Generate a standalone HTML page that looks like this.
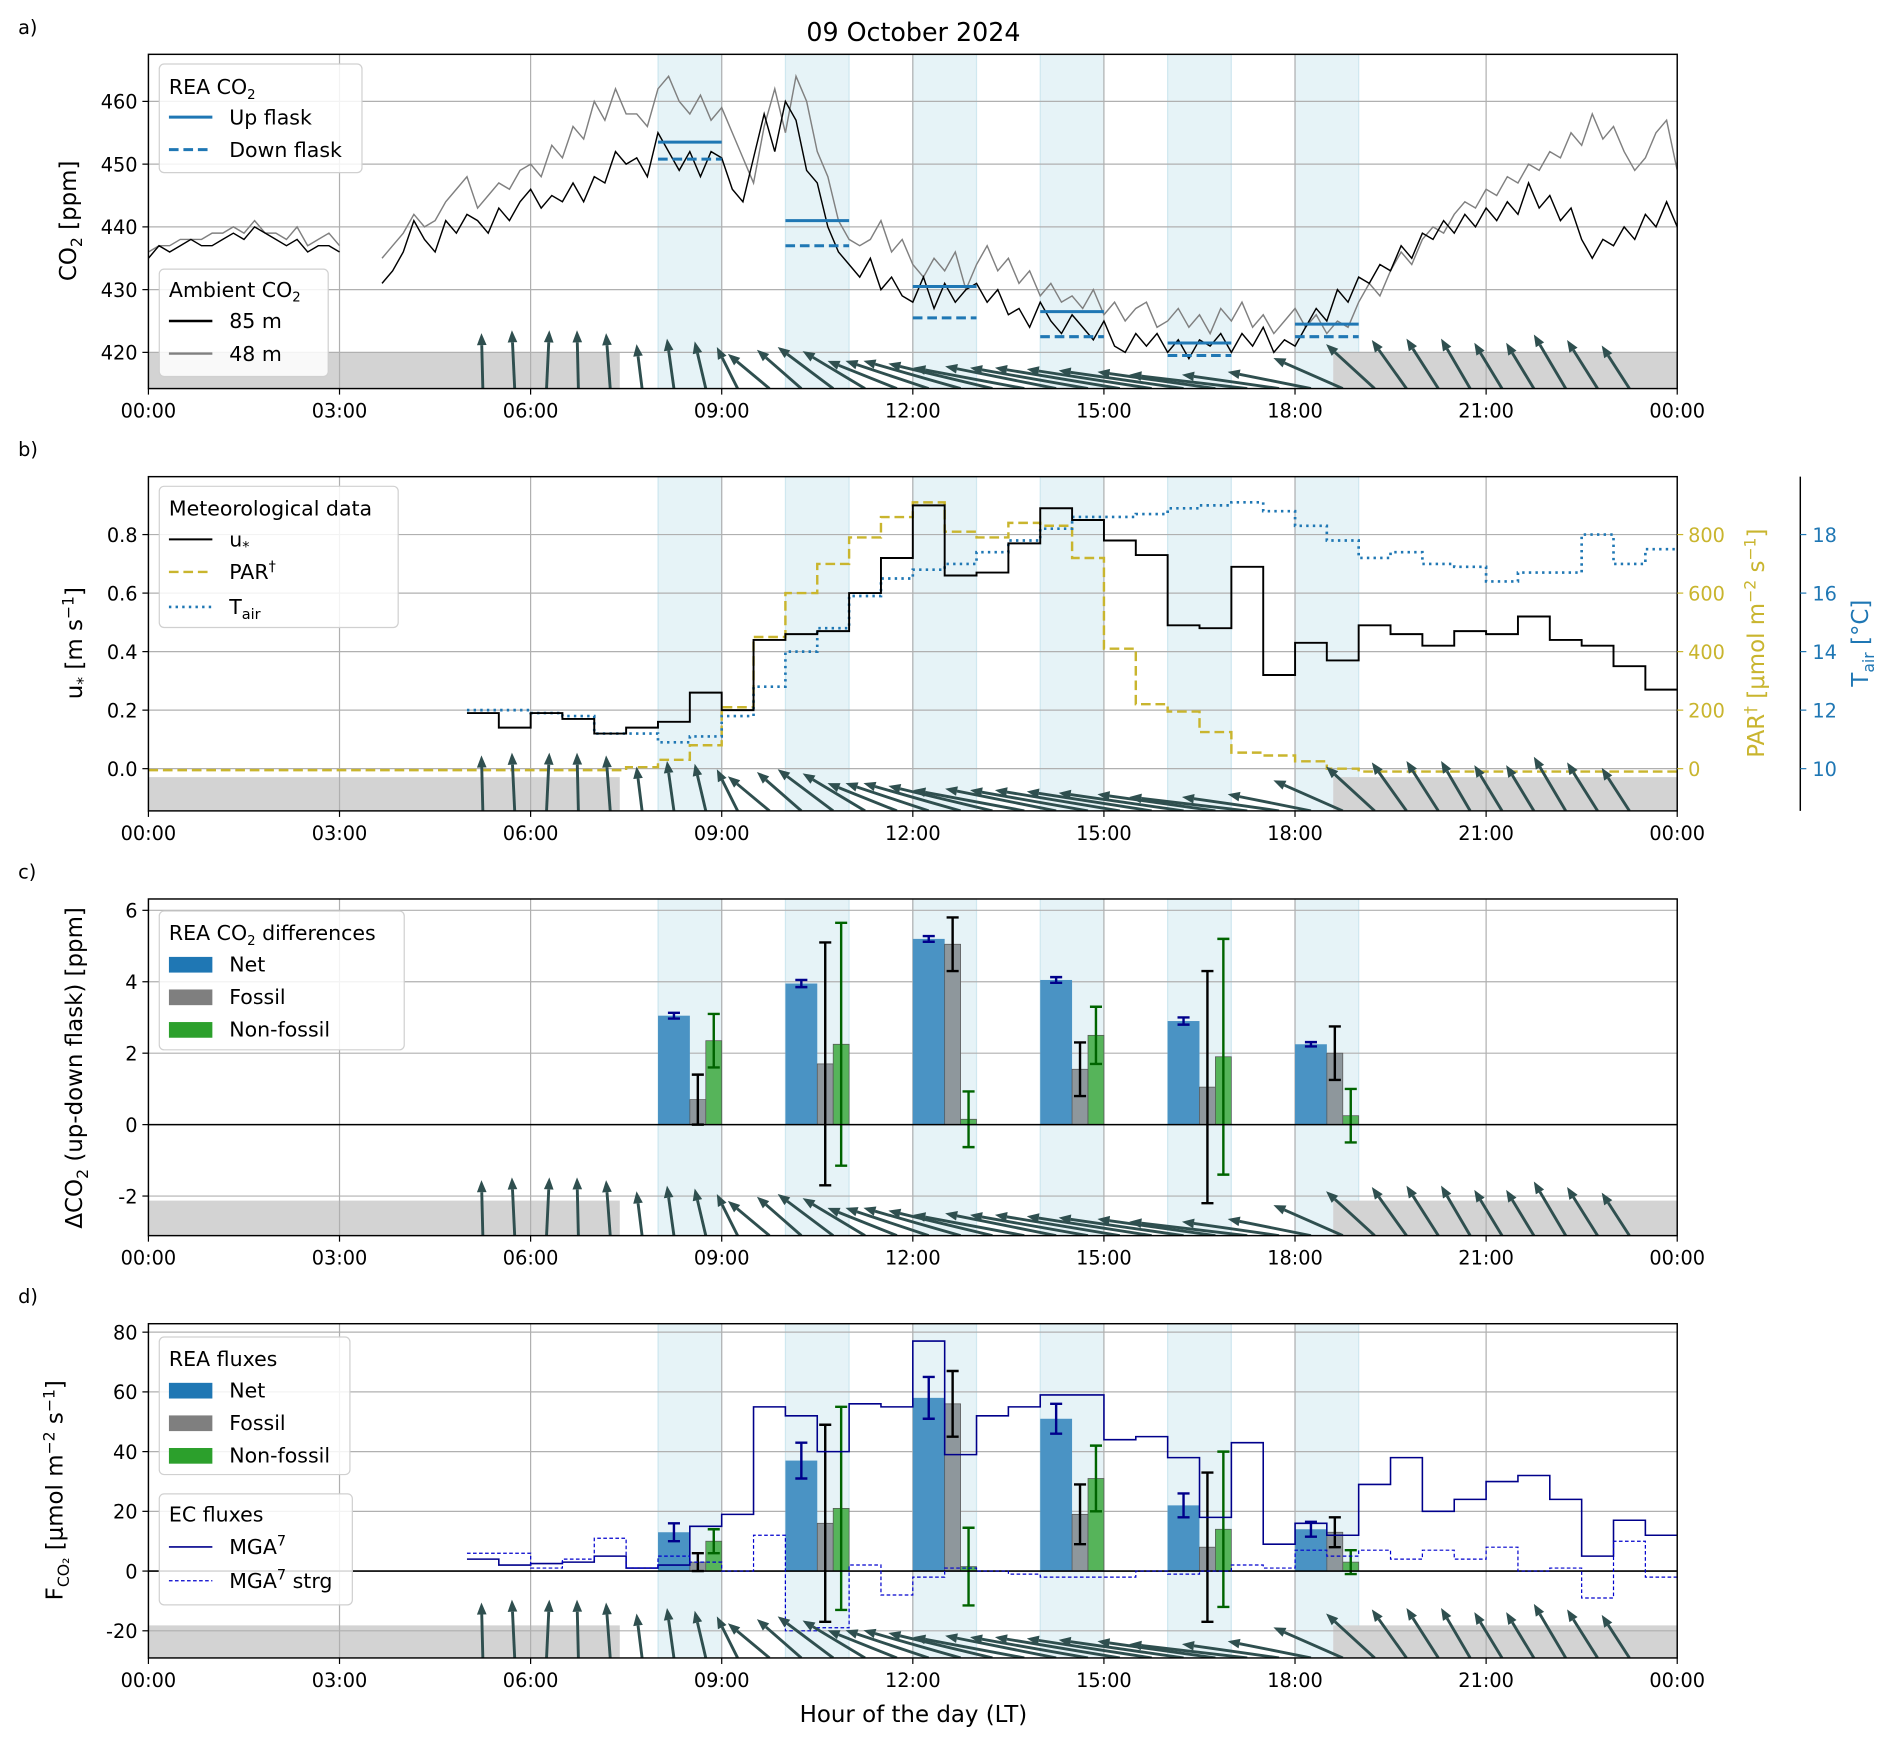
<!DOCTYPE html>
<html><head><meta charset="utf-8"><style>
html,body{margin:0;padding:0;background:#fff}
svg{display:block;font-family:"DejaVu Sans","Liberation Sans",sans-serif}
</style></head><body>
<svg id="fig" width="1892" height="1748" viewBox="0 0 1568 1448.6" xmlns="http://www.w3.org/2000/svg"></svg>
<script>
// ---------- DATA ----------
// 10-minute CO2 samples; null = data gap
const co2_85=[435,437,436,437,438,437,437,438,439,438,440,439,438,437,438,436,437,437,436,
null,null,null,
431,433,436,441,438,436,441,439,442,441,
439,443,441,444,446,443,445,444,447,444,
448,447,452,450,451,448,455,452,449,452,
448,452,451,446,444,451,458,452,460,457,
449,447,440,436,434,432,435,430,432,429,
428,432,427,431,428,430,431,428,430,426,
427,424,428,425,423,426,424,422,425,421,
420,423,421,423,420,422,419,422,421,423,
420,423,421,424,420,422,421,424,427,425,
430,428,432,431,434,433,437,435,439,438,
441,439,442,440,443,441,444,442,447,443,
445,441,443,438,435,438,437,440,438,442,
440,444,440];
const co2_48=[436,437,437,438,438,438,439,439,440,439,441,439,439,438,440,437,438,439,437,
null,null,null,
435,437,439,442,440,441,444,446,448,443,
445,447,446,449,450,448,453,451,456,454,
460,457,462,458,458,456,462,464,460,458,
461,457,459,455,451,447,456,462,455,464,
460,452,448,441,438,437,438,441,436,438,
434,432,435,433,436,430,434,437,433,435,
431,433,429,431,428,429,427,430,426,428,
425,427,428,424,425,427,424,426,423,427,
425,428,424,426,423,425,427,424,426,423,
425,424,428,431,429,433,436,434,438,440,
439,442,444,443,446,445,448,447,450,449,
452,451,455,453,458,454,456,452,449,451,
455,457,449];
const co2StepMinutes=10;
const reaHours=[8,10,12,14,16,18];
const reaUp=[453.5,441,430.5,426.5,421.5,424.5];
const reaDown=[450.8,437,425.5,422.5,419.5,422.5];
const windTimes=[5.25,5.75,6.25,6.75,7.25,7.75,8.25,8.75,9.25,9.75,10.25,10.75,11.25,11.75,12.25,12.75,13.25,13.75,14.25,14.75,15.25,15.75,16.25,16.75,17.25,17.75,18.25,18.75,19.25,19.75,20.25,20.75,21.25,21.75,22.25,22.75,23.25];
const windU=[-0.1,-0.2,0.2,-0.1,-0.3,-0.4,-0.5,-0.8,-1.5,-3,-3.2,-4,-4.5,-5,-6,-7,-7.5,-8,-8,-8.5,-9,-9,-9,-8.5,-8.5,-7,-6,-5,-3.5,-2.5,-2.3,-2.1,-2,-2,-2.3,-2.2,-2];
const windV=[4,4.2,4.2,4.2,4,3.2,3.6,3.4,3,2.5,2.8,3,2.7,2,2,2,1.8,1.5,1.6,1.5,1.5,1.4,1.3,1.2,1,1,1.2,2.2,3.2,3.5,3.6,3.6,3.3,3.3,3.9,3.5,3.1];
const stepStart=[5,5.5,6,6.5,7,7.5,8,8.5,9,9.5,10,10.5,11,11.5,12,12.5,13,13.5,14,14.5,15,15.5,16,16.5,17,17.5,18,18.5,19,19.5,20,20.5,21,21.5,22,22.5,23,23.5];
const ustar=[0.19,0.14,0.19,0.17,0.12,0.14,0.16,0.26,0.20,0.44,0.46,0.47,0.60,0.72,0.90,0.66,0.67,0.77,0.89,0.85,0.78,0.73,0.49,0.48,0.69,0.32,0.43,0.37,0.49,0.46,0.42,0.47,0.46,0.52,0.44,0.42,0.35,0.27];
const parStart=[0,7.5,8,8.5,9,9.5,10,10.5,11,11.5,12,12.5,13,13.5,14,14.5,15,15.5,16,16.5,17,17.5,18,18.5,19];
const par=[-5,5,30,80,210,450,600,700,790,860,910,810,790,840,830,720,410,220,195,125,55,45,25,0,-10];
const tair=[12.0,12.0,11.9,11.8,11.2,11.2,10.9,11.1,11.8,12.8,14.0,14.8,15.9,16.5,16.8,17.0,17.4,17.8,18.2,18.6,18.6,18.7,18.9,19.0,19.1,18.8,18.3,17.8,17.2,17.4,17.0,16.9,16.4,16.7,16.7,18.0,17.0,17.5];
const dNet=[3.05,3.95,5.2,4.05,2.9,2.25], dNetErr=[0.08,0.1,0.08,0.08,0.1,0.06];
const dFos=[0.7,1.7,5.05,1.55,1.05,2.0], dFosErr=[0.7,3.4,0.75,0.75,3.25,0.75];
const dNon=[2.35,2.25,0.15,2.5,1.9,0.25], dNonErr=[0.75,3.4,0.78,0.8,3.3,0.75];
const fNet=[13,37,58,51,22,14], fNetErr=[3,6,7,5,4,2.5];
const fFos=[3,16,56,19,8,13], fFosErr=[3,33,11,10,25,5];
const fNon=[10,21,1.5,31,14,3], fNonErr=[4,34,13,11,26,4];
const mga=[4,2,2.5,3,5,1,2,15,19,55,52,40,56,55,77,39,52,55,59,59,44,45,38,18,43,9,16,12,29,38,20,24,30,32,24,5,17,12];
const mgaStrg=[6,6,1,4,11,1,5,3,0,12,-20,-19,2,-8,-2,1,0,-1,-2,-2,-2,0,-1,0,2,1,7,5,7,4,7,4,8,0,1,-9,10,-2];
const xTickLabels=["00:00","03:00","06:00","09:00","12:00","15:00","18:00","21:00","00:00"];

// ---------- HELPERS ----------
const NS="http://www.w3.org/2000/svg", svg=document.getElementById('fig');
const X0=123,X1=1390; const xs=h=>X0+h*(X1-X0)/24;
function el(tag,attrs,parent,txt){const e=document.createElementNS(NS,tag);for(const k in attrs)e.setAttribute(k,attrs[k]);if(txt!==undefined)e.textContent=txt;(parent||svg).appendChild(e);return e;}
function text(x,y,s,opt,parent){const t=el('text',Object.assign({x:x,y:y,'font-size':16,fill:'#000'},opt||{}),parent);t.innerHTML=s;return t;}
const panels={
 a:{top:45,bot:322,y:v=>292-(v-420)*5.2,ticks:[420,430,440,450,460],night:292},
 b:{top:395,bot:672,y:v=>637-v*242.5,ticks:[0,0.2,0.4,0.6,0.8],night:644,fmt:v=>v.toFixed(1)},
 c:{top:745,bot:1024,y:v=>932-v*29.6,ticks:[-2,0,2,4,6],night:995},
 d:{top:1097,bot:1374,y:v=>1302-v*2.475,ticks:[-20,0,20,40,60,80],night:1347}
};
function steps(starts,vals,end,ys){let d='';for(let i=0;i<starts.length;i++){const x0=xs(starts[i]),x1=xs(i+1<starts.length?starts[i+1]:end),y=ys(vals[i]);d+=(i?'L':'M')+x0.toFixed(1)+','+y.toFixed(1)+'L'+x1.toFixed(1)+','+y.toFixed(1);}return d;}

let clipN=0;
function panelBase(key,label){
 const P=panels[key];const g=el('g',{});
 
 
 const cid='clip'+(clipN++);
 const cp=el('clipPath',{id:cid},g);el('rect',{x:X0,y:P.top,width:X1-X0,height:P.bot-P.top},cp);
 const inner=el('g',{'clip-path':'url(#'+cid+')'},g);
 reaHours.forEach(h=>{const r=el('rect',{x:xs(h),y:P.top,width:xs(h+1)-xs(h),height:P.bot-P.top,fill:'#add8e6','fill-opacity':0.3,stroke:'#add8e6','stroke-opacity':0.5},inner);
  });
 const n1=el('rect',{x:X0,y:P.night,width:xs(7.4)-X0,height:P.bot-P.night,fill:'#d3d3d3'},inner);
 
 const n2=el('rect',{x:xs(18.6),y:P.night,width:X1-xs(18.6),height:P.bot-P.night,fill:'#d3d3d3'},inner);
 
 for(let i=0;i<=8;i++){el('line',{x1:xs(i*3),x2:xs(i*3),y1:P.top,y2:P.bot,stroke:'#b0b0b0','stroke-width':1},inner);}
 P.ticks.forEach(v=>{el('line',{x1:X0,x2:X1,y1:P.y(v),y2:P.y(v),stroke:'#b0b0b0','stroke-width':1},inner);
   el('line',{x1:X0-5,x2:X0,y1:P.y(v),y2:P.y(v),stroke:'#000'},g);
   const t=text(X0-9,P.y(v)+6,P.fmt?P.fmt(v):String(v),{'text-anchor':'end'},g);
   });
 xTickLabels.forEach((s,i)=>{el('line',{x1:xs(i*3),x2:xs(i*3),y1:P.bot,y2:P.bot+5,stroke:'#000'},g);
   const t=text(xs(i*3),P.bot+24,s,{'text-anchor':'middle'},g);
   });
 const pl=text(15,P.top-17,label,{'font-size':16},g);
 
 P.g=g;P.inner=inner;return P;
}
function drawWind(P){
 const sc=11.5;
 windTimes.forEach((t,i)=>{const x0=xs(t),y0=P.bot,dx=windU[i]*sc,dy=-windV[i]*sc;
  const L=Math.hypot(dx,dy),ux=dx/L,uy=dy/L,hl=10,hw=4;
  const x1=x0+dx,y1=y0+dy,bx=x1-ux*hl,by=y1-uy*hl;
  const a=el('g',{},P.inner);
  
  
  el('line',{x1:x0,y1:y0,x2:bx,y2:by,stroke:'#2f4f4f','stroke-width':2.4},a);
  el('polygon',{points:`${x1},${y1} ${bx-uy*hw},${by+ux*hw} ${bx+uy*hw},${by-ux*hw}`,fill:'#2f4f4f'},a);});
}
function frame(P){el('rect',{x:X0,y:P.top,width:X1-X0,height:P.bot-P.top,fill:'none',stroke:'#000','stroke-width':1.2},P.g);}
function legendBox(g,x,y,w,h){el('rect',{x:x,y:y,width:w,height:h,rx:4,fill:'#fff','fill-opacity':0.85,stroke:'#d0d0d0'},g);}
function bars(P,net,netE,fos,fosE,non,nonE){
 const y0=P.y(0);
 const specs=[[net,netE,0,0.5,'#4a93c4','#00008b','bar-net'],[fos,fosE,0.5,0.75,'#8e979c','#000','bar-fossil'],[non,nonE,0.75,1,'#56b45a','#006400','bar-nonfossil']];
 reaHours.forEach((h,i)=>{specs.forEach(s=>{
  const v=s[0][i],e=s[1][i],xa=xs(h+s[2]),xb=xs(h+s[3]),yv=P.y(v);
  const r=el('rect',{x:xa,y:Math.min(yv,y0),width:xb-xa,height:Math.abs(y0-yv),fill:s[4],stroke:s[2]>0?'#555':'none','stroke-width':0.6},P.inner);
  
  const xc=(xa+xb)/2,yt=P.y(v+e),yb=P.y(v-e);
  const eb=el('path',{d:`M${xc},${yt}L${xc},${yb}M${xc-5},${yt}L${xc+5},${yt}M${xc-5},${yb}L${xc+5},${yb}`,stroke:s[5],'stroke-width':2,fill:'none'},P.inner);
  });});
 el('line',{x1:X0,x2:X1,y1:y0,y2:y0,stroke:'#000','stroke-width':1.3},P.inner);
}

// title
const ttl=text(757,34,'09 October 2024',{'font-size':21,'text-anchor':'middle'});


// ---------- PANEL A ----------
const A=panelBase('a','a)');
function co2Path(vals){let d='',pen=false;vals.forEach((v,i)=>{if(v===null){pen=false;return;}const t=i*co2StepMinutes/60;d+=(pen?'L':'M')+xs(t).toFixed(1)+','+A.y(v).toFixed(1);pen=true;});return d;}
const l48=el('path',{d:co2Path(co2_48),stroke:'#808080','stroke-width':1.2,fill:'none'},A.inner);

const l85=el('path',{d:co2Path(co2_85),stroke:'#000','stroke-width':1.2,fill:'none'},A.inner);

reaHours.forEach((h,i)=>{
 const u=el('line',{x1:xs(h),x2:xs(h+1),y1:A.y(reaUp[i]),y2:A.y(reaUp[i]),stroke:'#1f77b4','stroke-width':2.5},A.inner);
 
 const dn=el('line',{x1:xs(h),x2:xs(h+1),y1:A.y(reaDown[i]),y2:A.y(reaDown[i]),stroke:'#1f77b4','stroke-width':2.5,'stroke-dasharray':'8,4'},A.inner);
 });
drawWind(A);frame(A);
const la=el('g',{},A.g);
legendBox(la,132,53,168,90);text(140,78,'REA CO<tspan font-size="11" dy="4">2</tspan>',{'font-size':17},la);
el('line',{x1:140,x2:176,y1:97,y2:97,stroke:'#1f77b4','stroke-width':2.5},la);text(190,103,'Up flask',{'font-size':17},la);
el('line',{x1:140,x2:176,y1:124,y2:124,stroke:'#1f77b4','stroke-width':2.5,'stroke-dasharray':'8,4'},la);text(190,130,'Down flask',{'font-size':17},la);
const la2=el('g',{},A.g);
legendBox(la2,132,223,140,89);text(140,246,'Ambient CO<tspan font-size="11" dy="4">2</tspan>',{'font-size':17},la2);
el('line',{x1:140,x2:176,y1:266,y2:266,stroke:'#000','stroke-width':2},la2);text(190,272,'85 m',{'font-size':17},la2);
el('line',{x1:140,x2:176,y1:293,y2:293,stroke:'#808080','stroke-width':2},la2);text(190,299,'48 m',{'font-size':17},la2);
const ya=text(0,0,'CO<tspan font-size="13" dy="5">2</tspan><tspan dy="-5"> [ppm]</tspan>',{'font-size':19,'text-anchor':'middle',transform:'translate(63,183) rotate(-90)'},A.g);


// ---------- PANEL B ----------
const B=panelBase('b','b)');
const parY=v=>637-v*0.2425, tY=v=>637-(v-10)*24.25;
const lp=el('path',{d:steps(parStart,par,24,parY),stroke:'#c9b52e','stroke-width':2,fill:'none','stroke-dasharray':'8,4'},B.inner);

const lt=el('path',{d:steps(stepStart,tair,24,tY),stroke:'#1f77b4','stroke-width':2.2,fill:'none','stroke-dasharray':'2,3.5'},B.inner);

const lu=el('path',{d:steps(stepStart,ustar,24,B.y),stroke:'#000','stroke-width':1.6,fill:'none'},B.inner);

drawWind(B);frame(B);
[0,200,400,600,800].forEach(v=>{el('line',{x1:X1,x2:X1+5,y1:parY(v),y2:parY(v),stroke:'#c9b52e'},B.g);
 const t=text(X1+9,parY(v)+6,String(v),{fill:'#c9b52e'},B.g);});
el('line',{x1:1492,x2:1492,y1:395,y2:672,stroke:'#000','stroke-width':1.2},B.g);
[10,12,14,16,18].forEach(v=>{el('line',{x1:1492,x2:1497,y1:tY(v),y2:tY(v),stroke:'#1f77b4'},B.g);
 const t=text(1502,tY(v)+6,String(v),{fill:'#1f77b4'},B.g);});
const yb=text(0,0,'u<tspan font-size="13" dy="5">*</tspan><tspan dy="-5"> [m s</tspan><tspan font-size="13" dy="-7">−1</tspan><tspan dy="7">]</tspan>',{'font-size':19,'text-anchor':'middle',transform:'translate(68,533) rotate(-90)'},B.g);

const yp=text(0,0,'PAR<tspan font-size="13" dy="-7">†</tspan><tspan dy="7"> [μmol m</tspan><tspan font-size="13" dy="-7">−2</tspan><tspan dy="7"> s</tspan><tspan font-size="13" dy="-7">−1</tspan><tspan dy="7">]</tspan>',{'font-size':19,fill:'#c9b52e','text-anchor':'middle',transform:'translate(1462,533) rotate(-90)'},B.g);

const yt=text(0,0,'T<tspan font-size="13" dy="5">air</tspan><tspan dy="-5"> [°C]</tspan>',{'font-size':19,fill:'#1f77b4','text-anchor':'middle',transform:'translate(1548,533) rotate(-90)'},B.g);

const lb=el('g',{},B.g);
legendBox(lb,132,403,198,117);text(140,427,'Meteorological data',{'font-size':17},lb);
el('line',{x1:140,x2:176,y1:447,y2:447,stroke:'#000','stroke-width':1.6},lb);text(190,453,'u<tspan font-size="12" dy="4">*</tspan>',{'font-size':17},lb);
el('line',{x1:140,x2:176,y1:474,y2:474,stroke:'#c9b52e','stroke-width':2,'stroke-dasharray':'8,4'},lb);text(190,480,'PAR<tspan font-size="12" dy="-7">†</tspan>',{'font-size':17},lb);
el('line',{x1:140,x2:176,y1:503,y2:503,stroke:'#1f77b4','stroke-width':2.2,'stroke-dasharray':'2,3.5'},lb);text(190,509,'T<tspan font-size="12" dy="4">air</tspan>',{'font-size':17},lb);

// ---------- PANEL C ----------
const C=panelBase('c','c)');
bars(C,dNet,dNetErr,dFos,dFosErr,dNon,dNonErr);
drawWind(C);frame(C);
const yc=text(0,0,'ΔCO<tspan font-size="13" dy="5">2</tspan><tspan dy="-5"> (up-down flask) [ppm]</tspan>',{'font-size':19,'text-anchor':'middle',transform:'translate(68,885) rotate(-90)'},C.g);

function barLegend(P,x,y,w,h,title,nm){const g=el('g',{},P.g);
 legendBox(g,x,y,w,h);text(x+8,y+24,title,{'font-size':17},g);
 [['#1f77b4','Net'],['#7f7f7f','Fossil'],['#2ca02c','Non-fossil']].forEach((s,i)=>{el('rect',{x:x+8,y:y+38+i*27,width:36,height:13,fill:s[0]},g);text(x+58,y+50+i*27,s[1],{'font-size':17},g);});}
barLegend(C,132,755,203,115,'REA CO<tspan font-size="11" dy="4">2</tspan><tspan dy="-4"> differences</tspan>','legend-rea-diff');

// ---------- PANEL D ----------
const D=panelBase('d','d)');
bars(D,fNet,fNetErr,fFos,fFosErr,fNon,fNonErr);
const lm=el('path',{d:steps(stepStart,mga,24,D.y),stroke:'#00008b','stroke-width':1.3,fill:'none'},D.inner);

const ls=el('path',{d:steps(stepStart,mgaStrg,24,D.y),stroke:'#0000cd','stroke-width':1,fill:'none','stroke-dasharray':'3,2'},D.inner);

drawWind(D);frame(D);
barLegend(D,132,1108,158,114,'REA fluxes','legend-rea-fluxes');
const le=el('g',{},D.g);
legendBox(le,132,1238,160,92);text(140,1261,'EC fluxes',{'font-size':17},le);
el('line',{x1:140,x2:176,y1:1282,y2:1282,stroke:'#00008b','stroke-width':1.3},le);text(190,1288,'MGA<tspan font-size="12" dy="-7">7</tspan>',{'font-size':17},le);
el('line',{x1:140,x2:176,y1:1310,y2:1310,stroke:'#0000cd','stroke-width':1,'stroke-dasharray':'3,2'},le);text(190,1316,'MGA<tspan font-size="12" dy="-7">7</tspan><tspan dy="7"> strg</tspan>',{'font-size':17},le);
const yd=text(0,0,'F<tspan font-size="13" dy="5">CO₂</tspan><tspan dy="-5"> [μmol m</tspan><tspan font-size="13" dy="-7">−2</tspan><tspan dy="7"> s</tspan><tspan font-size="13" dy="-7">−1</tspan><tspan dy="7">]</tspan>',{'font-size':19,'text-anchor':'middle',transform:'translate(52,1235) rotate(-90)'},D.g);

const xl=text(757,1427,'Hour of the day (LT)',{'font-size':19,'text-anchor':'middle'});

</script>
</body></html>
